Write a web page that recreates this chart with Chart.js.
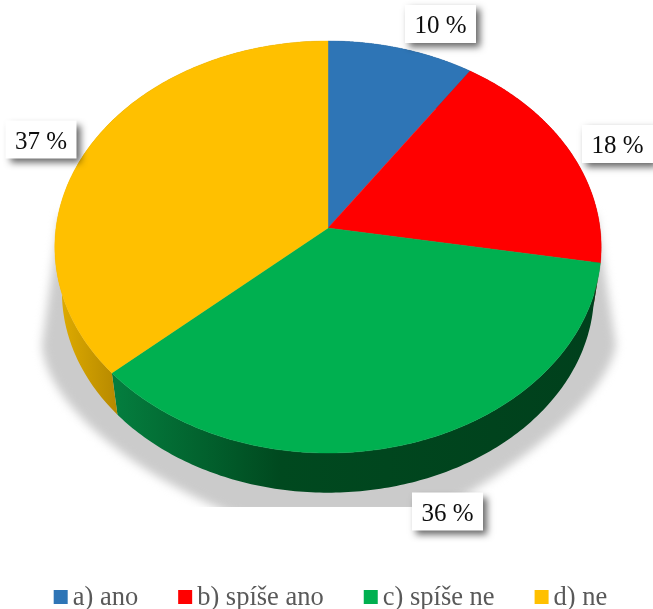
<!DOCTYPE html>
<html><head><meta charset="utf-8">
<style>html,body{margin:0;padding:0;background:#fff}canvas{display:block}</style>
<script src="https://cdn.jsdelivr.net/npm/chart.js@4"></script>
</head><body><canvas id="c" width="653" height="609"></canvas>
<script>
const categories = ['a) ano','b) spíše ano','c) spíše ne','d) ne'];
const shares = [9.5, 18.2, 35.7, 36.6];
const shownPercent = ['10 %','18 %','36 %','37 %'];
const topColors = ['#2e75b6','#ff0000','#00b050','#ffc000'];
const sideStops = [
  ['#1d4a73','#1d4a73'],
  ['#8f0000','#8f0000'],
  ['#047d3e','#00491f','#00401c'],
  ['#e2ae00','#b68900']
];
const sideSpan = [[328,470],[470,600],[117,280,600],[55,117]];

const FONT = '"Liberation Serif","Times New Roman",serif';
const TILT = 0.751, PERSP = 0.0922, BASE_SCALE = 0.974, BASE_DROP = 45.5;

function project(arc, a, base) {
  const u = Math.cos(a), v = Math.sin(a), d = 1 - PERSP * v;
  const X = arc.outerRadius * u / d, Y = arc.outerRadius * TILT * v / d;
  return base ? [arc.x + BASE_SCALE * X, arc.y + BASE_DROP + BASE_SCALE * Y] : [arc.x + X, arc.y + Y];
}
function rim(ctx, arc, a0, a1, base, first) {
  const n = 160;
  for (let i = 0; i <= n; i++) {
    const p = project(arc, a0 + (a1 - a0) * i / n, base);
    if (i === 0 && first) ctx.moveTo(p[0], p[1]); else ctx.lineTo(p[0], p[1]);
  }
}
const pie3d = {
  id: 'pie3d',
  beforeDatasetDraw(chart) {
    const ctx = chart.ctx, arcs = chart.getDatasetMeta(0).data;
    // soft floor shadow
    ctx.save();
    ctx.beginPath(); ctx.rect(0, 0, chart.width, 507); ctx.clip();
    ctx.filter = 'blur(5px)';
    ctx.fillStyle = '#cbcbcb';
    ctx.beginPath();
    ctx.moveTo(60, 215);
    ctx.lineTo(42, 345);
    ctx.bezierCurveTo(46, 405, 135, 475, 235, 515);
    ctx.lineTo(430, 515);
    ctx.bezierCurveTo(515, 470, 606, 400, 616, 345);
    ctx.lineTo(596, 215);
    ctx.closePath(); ctx.fill();
    ctx.restore();
    // walls
    arcs.forEach((arc, i) => {
      const sp = sideSpan[i], g = ctx.createLinearGradient(sp[0], 0, sp[sp.length - 1], 0);
      sideStops[i].forEach((col, k) => g.addColorStop((sp[k] - sp[0]) / (sp[sp.length - 1] - sp[0]), col));
      ctx.fillStyle = g;
      ctx.beginPath();
      rim(ctx, arc, arc.startAngle, arc.endAngle, false, true);
      rim(ctx, arc, arc.endAngle, arc.startAngle, true, false);
      ctx.closePath(); ctx.fill();
    });
    // faces
    arcs.forEach((arc, i) => {
      ctx.fillStyle = topColors[i];
      ctx.strokeStyle = topColors[i];
      ctx.lineWidth = 0.4;
      ctx.beginPath();
      ctx.moveTo(arc.x, arc.y);
      rim(ctx, arc, arc.startAngle, arc.endAngle, false, false);
      ctx.closePath(); ctx.fill(); ctx.stroke();
    });
    return false;
  },
  afterDraw(chart) {
    const ctx = chart.ctx, arcs = chart.getDatasetMeta(0).data;
    // value labels
    const positions = [[440.5,24],[617.5,144],[447.5,511.5],[41,139.5]];
    ctx.font = '25px ' + FONT;
    ctx.textAlign = 'center'; ctx.textBaseline = 'middle';
    arcs.forEach((arc, i) => {
      const [x, y] = positions[i];
      ctx.save();
      ctx.shadowColor = 'rgba(0,0,0,0.6)';
      ctx.shadowBlur = 7; ctx.shadowOffsetX = 4; ctx.shadowOffsetY = 4;
      ctx.fillStyle = '#fff';
      ctx.fillRect(x - 35.5, y - 19, 71, 38);
      ctx.restore();
      ctx.fillStyle = '#0d0d0d';
      ctx.fillText(shownPercent[i], x, y + 2.5);
    });
    // legend row
    ctx.font = '26.5px ' + FONT;
    ctx.textAlign = 'left'; ctx.textBaseline = 'alphabetic';
    const box = 14, gapBox = 5, gapItem = 40;
    const widths = categories.map(t => ctx.measureText(t).width);
    const total = widths.reduce((s, w) => s + w + box + gapBox, 0) + gapItem * (categories.length - 1);
    let x = 330.5 - total / 2;
    categories.forEach((t, i) => {
      ctx.fillStyle = topColors[i];
      ctx.fillRect(x, 590, box, box);
      ctx.fillStyle = '#595959';
      ctx.fillText(t, x + box + gapBox, 605);
      x += box + gapBox + widths[i] + gapItem;
    });
  }
};
new Chart(document.getElementById('c'), {
  type: 'pie',
  data: { labels: categories, datasets: [{ data: shares, backgroundColor: topColors, borderWidth: 0 }] },
  options: {
    responsive: false, animation: false,
    radius: 272,
    layout: { padding: { left: 3, right: 0, top: 0, bottom: 153 } },
    plugins: { legend: { display: false }, tooltip: { enabled: false } }
  },
  plugins: [pie3d]
});
</script></body></html>
